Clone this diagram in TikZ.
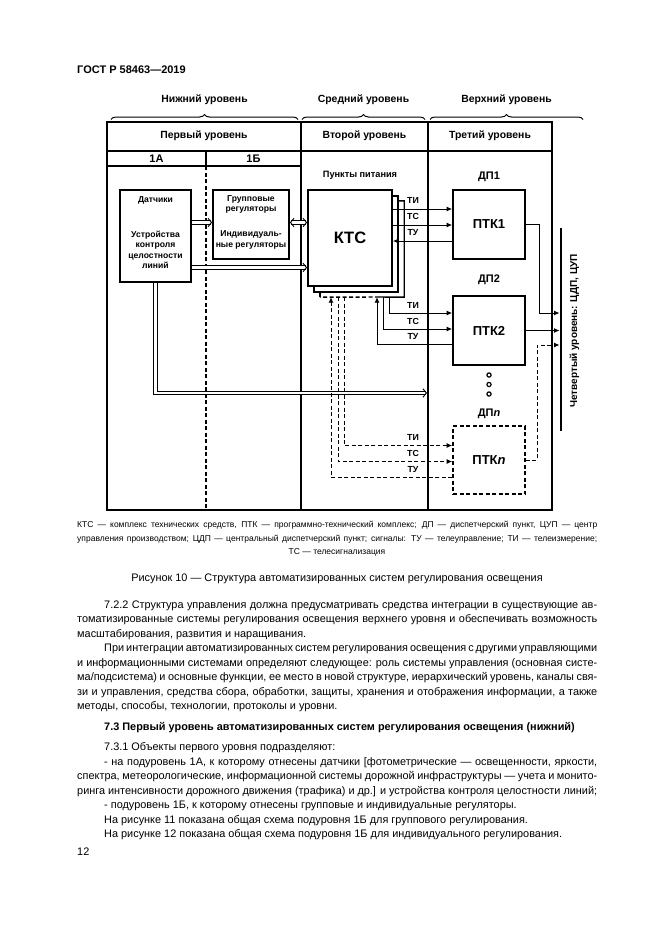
\documentclass[tikz,border=0pt]{standalone}
\usepackage{fontspec}
\setmainfont{Liberation Sans}
\usetikzlibrary{arrows.meta,decorations.pathreplacing}
\newcommand\fsz[2]{\fontsize{#1}{#2}\selectfont}
\newlength\fullw \setlength\fullw{520pt}
\newlength\indw \setlength\indw{493pt}
\newcommand\jfull[1]{\makebox[\fullw][s]{#1}}
\newcommand\jind[1]{\makebox[\indw][s]{#1}}
\begin{document}
\begin{tikzpicture}[x=1pt,y=-1pt,
  frame/.style={line width=2.3pt},
  divider/.style={line width=2pt},
  box/.style={draw, line width=1.8pt, inner sep=0pt, fill=white},
  shadowbox/.style={draw, line width=1.4pt, inner sep=0pt, fill=white},
  sig/.style={line width=0.9pt},
  tip/.style={-{Latex[length=5.5pt,width=5pt]}},
  dsh/.style={dash pattern=on 4pt off 2.5pt},
  dbl/.style={double, double distance=2.4pt, line width=0.9pt},
  barb/.style={-{Straight Barb[length=3.5pt,width=8.5pt]}},
  barbs/.style={{Straight Barb[length=3.5pt,width=8.5pt]}-{Straight Barb[length=3.5pt,width=8.5pt]}},
  lvl/.style={font=\bfseries\fsz{10.4}{12}, inner sep=0pt},
  lbl/.style={font=\bfseries\fsz{11}{13}, inner sep=0pt},
  small/.style={font=\bfseries\fsz{8.6}{10.5}, inner sep=0pt, align=center},
  sigl/.style={font=\bfseries\fsz{8.8}{10}, inner sep=0pt},
  body/.style={font=\fsz{10.9}{13}, inner sep=0pt, anchor=base west},
  captxt/.style={font=\fsz{8.5}{10}, inner sep=0pt, anchor=base west},
]
\useasboundingbox (0,0) rectangle (661,935);

% header
\node[font=\bfseries\fsz{11}{13}, anchor=base west, inner sep=0pt] (hdr) at (77,73) {ГОСТ Р 58463—2019};

% level labels and braces
\node[lvl] (lowlbl) at (204.5,100) {Нижний уровень};
\node[lvl] (midlbl) at (363.5,100) {Средний уровень};
\node[lvl] (toplbl) at (506.5,100) {Верхний уровень};
\draw[decorate, decoration={brace, amplitude=5pt}, line width=1pt] (111,119.5) -- (298,119.5);
\draw[decorate, decoration={brace, amplitude=5pt}, line width=1pt] (302,119.5) -- (425,119.5);
\draw[decorate, decoration={brace, amplitude=5pt}, line width=1pt] (430,119.5) -- (583,119.5);

% table frame
\draw[frame] (107,122) rectangle (552,510);
\draw[divider] (107,151) -- (552,151);
\draw[divider] (107,166) -- (301,166);
\draw[divider] (301,122) -- (301,510);
\draw[divider] (428,122) -- (428,510);
\draw[line width=1.5pt] (206,151) -- (206,166);
\draw[line width=1.1pt, dsh] (206,166) -- (206,510);

\node[lvl] (first) at (204,136) {Первый уровень};
\node[lvl] (second) at (364.5,136) {Второй уровень};
\node[lvl] (third) at (490,136) {Третий уровень};
\node[lbl] (sub1a) at (156.5,158.5) {1А};
\node[lbl] (sub1b) at (253.5,158.5) {1Б};
\node[font=\bfseries\fsz{9.2}{11}, inner sep=0pt] (pp) at (360,175) {Пункты питания};
\node[lbl] (dp1) at (489,177) {ДП1};
\node[lbl] (dp2) at (489,280) {ДП2};
\node[lbl] (dpn) at (489,414) {ДП\textit{n}};

% level 1 boxes
\node[box, minimum width=71pt, minimum height=92pt] (sens) at (155.5,236) {};
\node[small, anchor=north] (sensA) at (155.5,196.5) {Датчики};
\node[small, anchor=north] (sensB) at (155.5,230.5) {Устройства\\контроля\\целостности\\линий};
\node[box, minimum width=76pt, minimum height=69pt] (reg) at (251,224.5) {};
\node[small, anchor=north] (regA) at (251,195) {Групповые\\регуляторы};
\node[small, anchor=north] (regB) at (251,230.5) {Индивидуаль-\\ные регуляторы};

% KTS stack
\node[draw=none, fill=white, inner sep=0pt, minimum width=84pt, minimum height=96pt] (kts3) at (362,249) {};
\coordinate (k3split) at (379,297);
\draw[line width=1.4pt] (kts3.north west) -- (kts3.north east) -- (kts3.south east) -- (k3split);
\draw[line width=1.4pt, dsh] (k3split) -- (kts3.south west);
\draw[line width=1.4pt] (kts3.south west) -- (kts3.north west);
\node[shadowbox, minimum width=84pt, minimum height=96pt] (kts2) at (356,244) {};
\node[box, minimum width=84pt, minimum height=96pt, font=\bfseries\fsz{16.5}{18}] (kts) at (350,238) {КТС};

% level 3 boxes
\node[box, minimum width=72pt, minimum height=69pt, font=\bfseries\fsz{13}{14}] (ptk1) at (489,224.5) {ПТК1};
\node[box, minimum width=72pt, minimum height=69pt, font=\bfseries\fsz{13}{14}] (ptk2) at (489,330.5) {ПТК2};
\node[box, dsh, line width=1.6pt, minimum width=72pt, minimum height=68pt, font=\bfseries\fsz{13}{14}] (ptkn) at (489,460) {ПТК\textit{n}};

% dots
\draw[line width=1.2pt] (489,375) circle (2.1pt) (489,384.5) circle (2.1pt) (489,394) circle (2.1pt);

% double connectors
\coordinate (ya) at (0,222.5);
\coordinate (yb) at (0,267.5);
\coordinate (dpin) at (427,393);
\draw[dbl, barb] (sens.east |- ya) -- (reg.west |- ya);
\draw[dbl, barbs] (reg.east |- ya) -- (kts.west |- ya);
\draw[dbl, barb] (sens.east |- yb) -- (kts.west |- yb);
\draw[dbl, barb] (sens.south) |- (dpin);

% signals KTS <-> PTK1
\coordinate (y1) at (0,209);
\coordinate (y2) at (0,225);
\coordinate (y3) at (0,241);
\draw[sig, tip] (kts.east |- y1) -- (ptk1.west |- y1);
\draw[sig, tip] (kts.east |- y2) -- (ptk1.west |- y2);
\draw[sig, tip] (ptk1.west |- y3) -- (kts.east |- y3);
\node[sigl] (ti1) at (413,200.5) {ТИ};
\node[sigl] (ts1) at (413,216.5) {ТС};
\node[sigl] (tu1) at (413,232.5) {ТУ};

% signals KTS <-> PTK2
\coordinate (x1) at (389,0);
\coordinate (x2) at (383,0);
\coordinate (x3) at (377,0);
\coordinate (y4) at (0,313);
\coordinate (y5) at (0,329);
\coordinate (y6) at (0,344.5);
\draw[sig, tip] (kts3.south -| x1) |- (ptk2.west |- y4);
\draw[sig, tip] (kts3.south -| x2) |- (ptk2.west |- y5);
\draw[sig, tip] (ptk2.west |- y6) -| (kts3.south -| x3);
\node[sigl] (ti2) at (413,305) {ТИ};
\node[sigl] (ts2) at (413,321) {ТС};
\node[sigl] (tu2) at (413,337) {ТУ};

% signals KTS <-> PTKn (dashed)
\coordinate (x4) at (344,0);
\coordinate (x5) at (338,0);
\coordinate (x6) at (331,0);
\coordinate (y7) at (0,445.5);
\coordinate (y8) at (0,461.5);
\coordinate (y9) at (0,477);
\draw[sig, dsh, tip] (kts3.south -| x4) |- (ptkn.west |- y7);
\draw[sig, dsh, tip] (kts3.south -| x5) |- (ptkn.west |- y8);
\draw[sig, dsh, tip] (ptkn.west |- y9) -| (kts3.south -| x6);
\node[sigl] (tin) at (413,437) {ТИ};
\node[sigl] (tsn) at (413,453.5) {ТС};
\node[sigl] (tun) at (413,470) {ТУ};

% fourth level bus
\coordinate (busT) at (561,228);
\coordinate (busB) at (561,431);
\draw[line width=2.4pt] (busT) -- (busB);
\node[font=\bfseries\fsz{10}{11}, inner sep=0pt, rotate=90] (lvl4) at (574.5,331) {Четвертый уровень: ЦДП, ЦУП};
\coordinate (b1) at (559.5,313);
\coordinate (b2) at (559.5,330.5);
\coordinate (b3) at (559.5,345);
\coordinate (j1) at (539,313);
\coordinate (jn) at (537,345);
\draw[sig, tip] (ptk1.east) -| (j1) -- (b1);
\draw[sig, tip] (ptk2.east) -- (b2);
\draw[sig, dsh, tip] (ptkn.east) -| (jn) -- (b3);

% caption
\node[captxt] (c1) at (77,527.5) {\jfull{КТС — комплекс технических средств, ПТК — программно-технический комплекс; ДП — диспетчерский пункт, ЦУП — центр}};
\node[captxt] (c2) at (77,541) {\jfull{управления производством; ЦДП — центральный диспетчерский пункт; сигналы: ТУ — телеуправление; ТИ — телеизмерение;}};
\node[captxt, anchor=base] (c3) at (337,554.5) {ТС — телесигнализация};
\node[font=\fsz{10.9}{13}, inner sep=0pt, anchor=base] (figt) at (337,581) {Рисунок 10 — Структура автоматизированных систем регулирования освещения};

% body text
\node[body] (p1) at (104,608) {\jind{7.2.2 Структура управления должна предусматривать средства интеграции в существующие ав-}};
\node[body] (p2) at (77,622.5) {\jfull{томатизированные системы регулирования освещения верхнего уровня и обеспечивать возможность}};
\node[body] (p3) at (77,637) {масштабирования, развития и наращивания.};
\node[body] (p4) at (104,651.5) {\jind{При интеграции автоматизированных систем регулирования освещения с другими управляющими}};
\node[body] (p5) at (77,666) {\jfull{и информационными системами определяют следующее: роль системы управления (основная систе-}};
\node[body] (p6) at (77,680.5) {\jfull{ма/подсистема) и основные функции, ее место в новой структуре, иерархический уровень, каналы свя-}};
\node[body] (p7) at (77,695) {\jfull{зи и управления, средства сбора, обработки, защиты, хранения и отображения информации, а также}};
\node[body] (p8) at (77,709.5) {методы, способы, технологии, протоколы и уровни.};
\node[body, font=\bfseries\fsz{10.9}{13}] (h73) at (104,730) {7.3 Первый уровень автоматизированных систем регулирования освещения (нижний)};
\node[body] (q1) at (104,750) {7.3.1 Объекты первого уровня подразделяют:};
\node[body] (q2) at (104,765) {\jind{- на подуровень 1А, к которому отнесены датчики [фотометрические — освещенности, яркости,}};
\node[body] (q3) at (77,779.5) {\jfull{спектра, метеорологические, информационной системы дорожной инфраструктуры — учета и монито-}};
\node[body] (q4) at (77,794) {\jfull{ринга интенсивности дорожного движения (трафика) и др.] и устройства контроля целостности линий;}};
\node[body] (q5) at (104,808.5) {- подуровень 1Б, к которому отнесены групповые и индивидуальные регуляторы.};
\node[body] (q6) at (104,823) {На рисунке 11 показана общая схема подуровня 1Б для группового регулирования.};
\node[body] (q7) at (104,837.5) {На рисунке 12 показана общая схема подуровня 1Б для индивидуального регулирования.};
\node[body] (pg) at (77,855.5) {12};
\end{tikzpicture}
\end{document}
